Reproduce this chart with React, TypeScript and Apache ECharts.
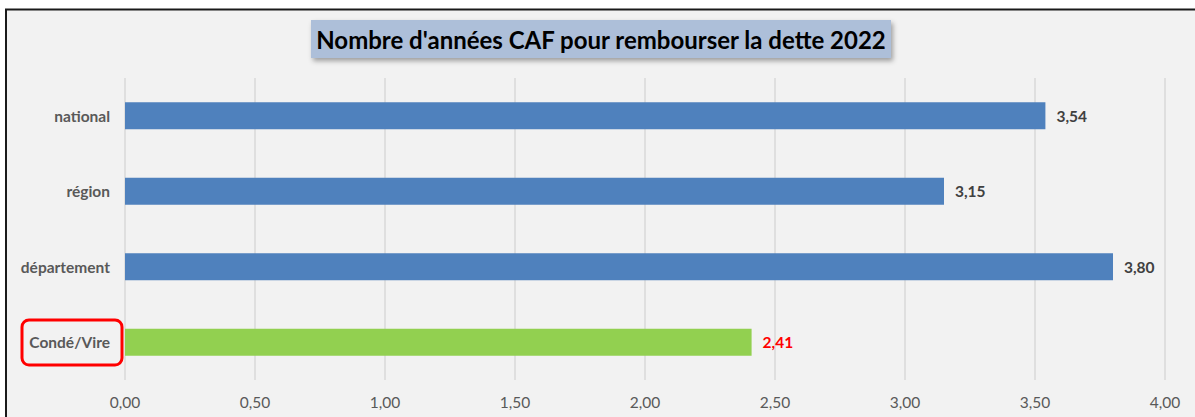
import React, { useEffect, useRef } from "react";
import * as echarts from "echarts";

const categories = ["national", "région", "département", "Condé/Vire"];
const values = [3.54, 3.15, 3.8, 2.41];
const barColors = ["#4f81bd", "#4f81bd", "#4f81bd", "#92d050"];
const labelColors = ["#404040", "#404040", "#404040", "#ff0000"];
const xTicks = [0, 0.5, 1, 1.5, 2, 2.5, 3, 3.5, 4];
const title = "Nombre d'années CAF pour rembourser la dette 2022";

const FONT = "Lato, 'Noto Sans', sans-serif";
const fmt = (v: number) => v.toFixed(2).replace(".", ",");

export default function App() {
  const ref = useRef<HTMLDivElement>(null);
  useEffect(() => {
    if (!ref.current) return;
    const chart = echarts.init(ref.current, null, { renderer: "svg" });
    chart.setOption({
      animation: false,
      backgroundColor: "#ffffff",
      grid: { left: 125, right: 30, top: 78, bottom: 37, containLabel: false },
      xAxis: {
        type: "value",
        min: xTicks[0],
        max: xTicks[xTicks.length - 1],
        interval: 0.5,
        axisLine: { show: false },
        axisTick: { show: false },
        splitLine: { show: true, lineStyle: { color: "#d9d9d9", width: 1.5 } },
        axisLabel: {
          formatter: (v: number) => fmt(v),
          color: "#595959",
          fontFamily: FONT,
          fontSize: 15.5,
          margin: 14,
        },
      },
      yAxis: {
        type: "category",
        data: categories,
        inverse: true,
        axisLine: { show: false },
        axisTick: { show: false },
        axisLabel: {
          color: "#595959",
          fontFamily: FONT,
          fontSize: 15.5,
          fontWeight: "bold",
          margin: 15,
        },
      },
      series: [
        {
          type: "bar",
          barWidth: 27,
          data: values.map((v, i) => ({
            value: v,
            itemStyle: { color: barColors[i] },
            label: { color: labelColors[i] },
          })),
          label: {
            show: true,
            position: "right",
            distance: 11,
            formatter: (p: any) => fmt(p.value),
            fontFamily: FONT,
            fontSize: 15.5,
            fontWeight: "bold",
          },
        },
      ],
      graphic: [
        {
          type: "rect",
          z: -10,
          silent: true,
          shape: { x: 6, y: 10, width: 1200, height: 420 },
          style: { fill: "#f2f2f2" },
        },
        {
          type: "line",
          silent: true,
          shape: { x1: 5, y1: 9.5, x2: 1195, y2: 9.5 },
          style: { stroke: "#1a1a1a", lineWidth: 2 },
        },
        {
          type: "line",
          silent: true,
          shape: { x1: 6, y1: 9, x2: 6, y2: 417 },
          style: { stroke: "#1a1a1a", lineWidth: 2 },
        },
        {
          type: "rect",
          silent: true,
          shape: { x: 311, y: 20, width: 580, height: 38 },
          style: {
            fill: "#adbfd9",
            shadowBlur: 5,
            shadowOffsetX: 2,
            shadowOffsetY: 3,
            shadowColor: "rgba(0,0,0,0.35)",
          },
        },
        {
          type: "text",
          silent: true,
          x: 601,
          y: 39,
          style: {
            text: title,
            fill: "#000000",
            font: `bold 24px ${FONT}`,
            align: "center",
            verticalAlign: "middle",
          },
        },
        {
          type: "rect",
          silent: true,
          shape: { x: 22, y: 320, width: 100, height: 45, r: 7 },
          style: { fill: "none", stroke: "#ff0000", lineWidth: 3 },
        },
      ],
    });
    return () => chart.dispose();
  }, []);
  return (
    <div
      ref={ref}
      style={{ position: "fixed", left: 0, top: 0, width: 1195, height: 417 }}
    />
  );
}
